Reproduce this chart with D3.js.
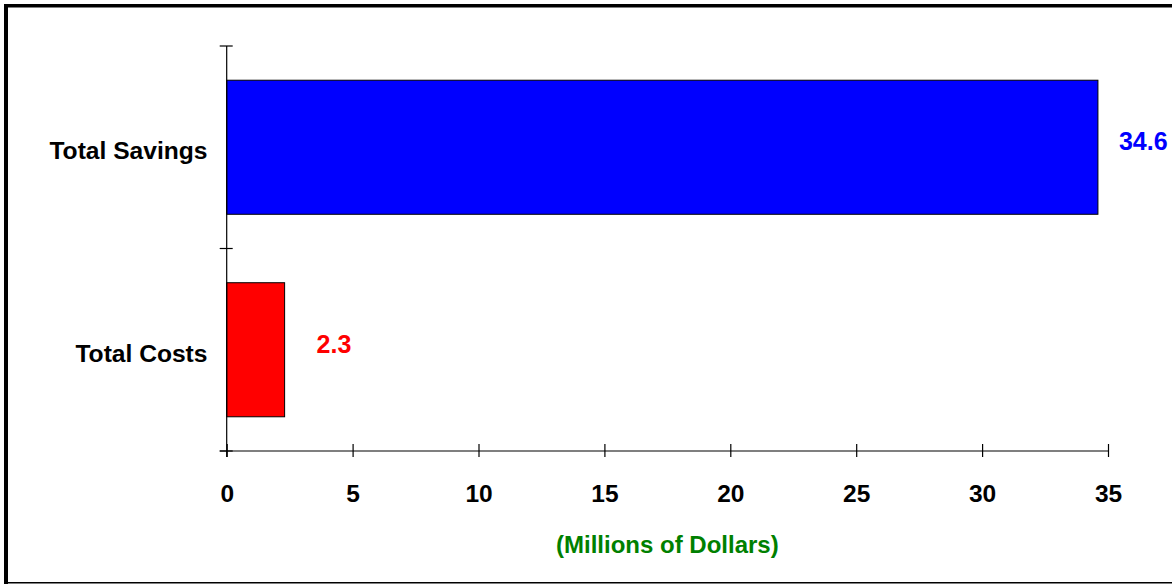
<!DOCTYPE html>
<html>
<head>
<meta charset="utf-8">
<script src="https://cdn.jsdelivr.net/npm/d3@7"></script>
<style>
  html, body { margin: 0; padding: 0; background: #fff; }
  svg { display: block; }
  text { font-family: "Liberation Sans", Arial, sans-serif; font-weight: bold; }
</style>
</head>
<body>
<svg id="chart" width="1172" height="584"></svg>
<script>
// Savings versus costs, in millions of dollars
const categories = ["Total Savings", "Total Costs"];
const values = [34.6, 2.3];
const barColors = ["#0000ff", "#ff0000"];
const xTicks = [0, 5, 10, 15, 20, 25, 30, 35];
const axisTitle = "(Millions of Dollars)";

const W = 1172, H = 584;
const plot = { left: 226.7, right: 1108, top: 46, bottom: 451 };

const svg = d3.select("#chart");

// frame around the chart area
svg.append("line").attr("x1", 4).attr("x2", W).attr("y1", 5.7).attr("y2", 5.7)
  .attr("stroke", "#000").attr("stroke-width", 3.5);
svg.append("line").attr("x1", 6).attr("x2", 6).attr("y1", 4).attr("y2", H)
  .attr("stroke", "#000").attr("stroke-width", 4);
svg.append("line").attr("x1", 4).attr("x2", W).attr("y1", 582.7).attr("y2", 582.7)
  .attr("stroke", "#000").attr("stroke-width", 1.6);

const x = d3.scaleLinear().domain([0, 35]).range([plot.left, plot.right]);
const y = d3.scaleBand().domain(categories).range([plot.top, plot.bottom])
  .paddingInner(0.338).paddingOuter(0.169);

// bars
svg.append("g").selectAll("rect")
  .data(categories)
  .join("rect")
  .attr("x", x(0))
  .attr("y", d => y(d))
  .attr("width", (d, i) => x(values[i]) - x(0))
  .attr("height", y.bandwidth())
  .attr("fill", (d, i) => barColors[i])
  .attr("stroke", "#000")
  .attr("stroke-width", 1);

// value labels beside the bars
const labelShift = [{ dx: 21, dy: 3 }, { dx: 32, dy: 3 }];
svg.append("g").selectAll("text")
  .data(categories)
  .join("text")
  .attr("x", (d, i) => x(values[i]) + labelShift[i].dx)
  .attr("y", (d, i) => y(d) + y.bandwidth() / 2 + labelShift[i].dy)
  .attr("font-size", 25)
  .attr("fill", (d, i) => barColors[i])
  .text((d, i) => d3.format(".1f")(values[i]));

// category axis with crossing ticks at band boundaries
const yAxis = svg.append("g");
yAxis.append("line").attr("x1", plot.left).attr("x2", plot.left)
  .attr("y1", plot.top).attr("y2", plot.bottom + 6)
  .attr("stroke", "#000").attr("stroke-width", 1.2);
const bounds = [plot.top, (plot.top + plot.bottom) / 2, plot.bottom];
yAxis.selectAll("line.tick").data(bounds).join("line")
  .attr("class", "tick")
  .attr("x1", plot.left - 7).attr("x2", plot.left + 6)
  .attr("y1", d => d).attr("y2", d => d)
  .attr("stroke", "#000").attr("stroke-width", 1.2);
yAxis.selectAll("text").data(categories).join("text")
  .attr("x", 207.5)
  .attr("y", d => y(d) + y.bandwidth() / 2 + 12)
  .attr("text-anchor", "end")
  .attr("font-size", 24.6)
  .attr("fill", "#000")
  .text(d => d);

// value axis
const xAxis = svg.append("g").attr("transform", `translate(0,${plot.bottom})`)
  .call(d3.axisBottom(x).tickValues(xTicks).tickSize(6).tickSizeOuter(0).tickPadding(28));
xAxis.select(".domain").attr("stroke", "#000").attr("stroke-width", 1.2)
  .attr("d", `M${plot.left - 7},0H${plot.right}`);
xAxis.selectAll(".tick line").attr("y1", -7).attr("y2", 6)
  .attr("stroke", "#000").attr("stroke-width", 1.2);
xAxis.selectAll(".tick text")
  .attr("font-size", 24.5)
  .attr("font-family", "'Liberation Sans', Arial, sans-serif")
  .attr("font-weight", "bold")
  .attr("fill", "#000");

// axis title
svg.append("text")
  .attr("x", (plot.left + plot.right) / 2)
  .attr("y", 553)
  .attr("text-anchor", "middle")
  .attr("font-size", 24)
  .attr("fill", "#008000")
  .text(axisTitle);
</script>
</body>
</html>
